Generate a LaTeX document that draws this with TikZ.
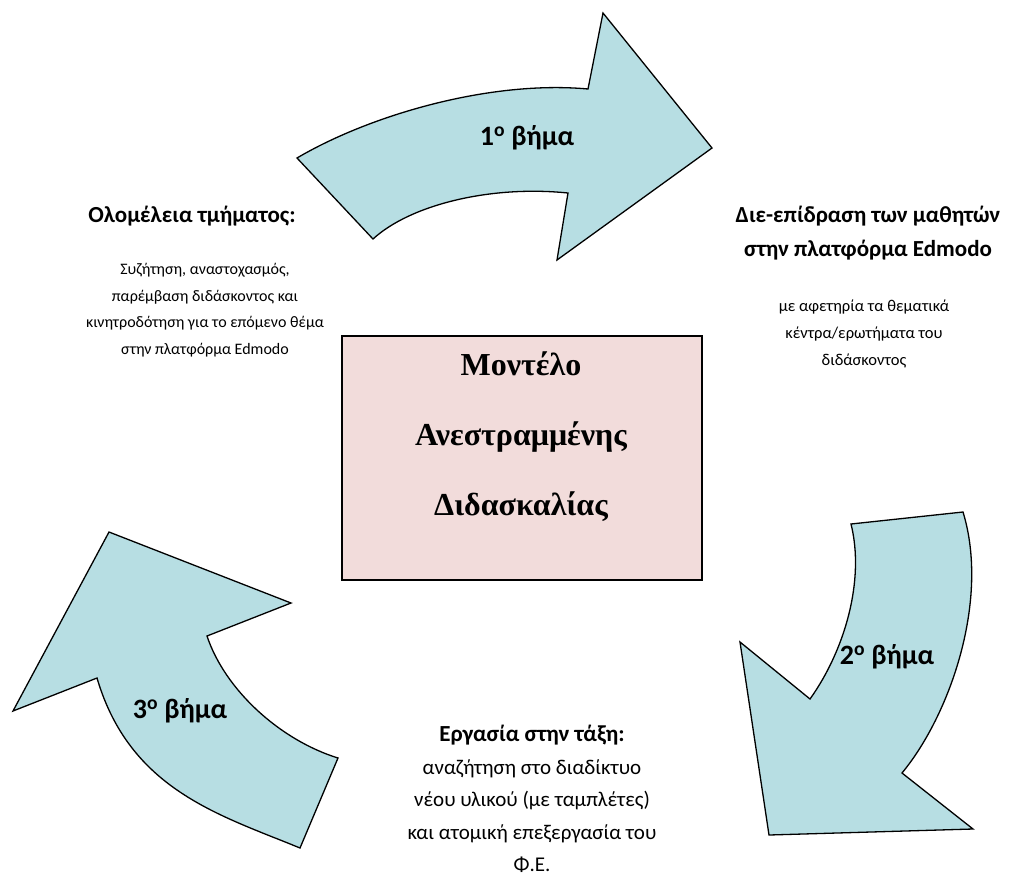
\documentclass[tikz,border=0pt]{standalone}
\usepackage{fontspec}
\setmainfont{Carlito}
\newfontfamily\serifgr{Liberation Serif}
\usetikzlibrary{positioning}

\definecolor{arrowblue}{RGB}{183,222,227}
\definecolor{boxpink}{RGB}{242,220,219}

\begin{document}
\begin{tikzpicture}[
                x = 1pt, y = -1pt, % pixel units, y down
                line join = miter,
                semithick % line style
            ]

            \tikzstyle{bigarrow}=[
            draw = black,
            fill = arrowblue,
            line width = 1.3pt
            ]
            \tikzstyle{steplabel}=[
            font = \fontsize{28}{32}\selectfont\bfseries,
            inner sep = 0pt
            ]
            \tikzstyle{headtext}=[
            font = \fontsize{23}{34}\selectfont\bfseries,
            align = center,
            inner sep = 0pt
            ]
            \tikzstyle{bodytext}=[
            align = center,
            inner sep = 0pt
            ]

            \useasboundingbox (0,0) rectangle (1010,879);

            % central box
            \node (model) [draw = black, fill = boxpink, line width = 1.6pt,
                minimum width = 360pt, minimum height = 244pt] at (522,458) {};
            \node (modeltext) [bodytext, font = \serifgr\fontsize{32}{70}\selectfont\bfseries]
                at (521,437) {Μοντέλο\\Ανεστραμμένης\\Διδασκαλίας};

            % 1st step arrow (top)
            \path[bigarrow] (297,158) .. controls (370,115) and (490,80) .. (588,89)
                -- (603,13) -- (712,148) -- (557,260) -- (568,193)
                .. controls (490,185) and (410,205) .. (373,239) -- cycle;

            % 2nd step arrow (right)
            \path[bigarrow] (963,512) -- (851,524)
                .. controls (865,580) and (845,650) .. (810,699)
                -- (740,642) -- (769,835) -- (973,829) -- (902,773)
                .. controls (950,715) and (990,600) .. (963,512) -- cycle;

            % 3rd step arrow (left)
            \path[bigarrow] (109,532) -- (291,603) -- (207,636)
                .. controls (225,690) and (280,740) .. (338,758)
                -- (300,848)
                .. controls (220,815) and (130,790) .. (97,678)
                -- (13,711) -- cycle;

            \node (step1) [steplabel] at (527,138) {1\textsuperscript{o} βήμα};
            \node (step2) [steplabel] at (887,657) {2\textsuperscript{o} βήμα};
            \node (step3) [steplabel] at (180,711) {3\textsuperscript{o} βήμα};

            % texts round the cycle
            \node (plenary) [headtext] at (192,216) {Ολομέλεια τμήματος:};
            \node (plenarybody) [bodytext, font = \fontsize{16}{26.5}\selectfont]
                at (205,310) {Συζήτηση, αναστοχασμός,\\παρέμβαση διδάσκοντος και\\
                κινητροδότηση για το επόμενο θέμα\\στην πλατφόρμα Edmodo};

            \node (edmodo) [headtext] at (868,233)
                {Διε-επίδραση των μαθητών\\στην πλατφόρμα Edmodo};
            \node (edmodobody) [bodytext, font = \fontsize{16.5}{27}\selectfont]
                at (864,334) {με αφετηρία τα θεματικά\\κέντρα/ερωτήματα του\\διδάσκοντος};

            \node (classwork) [bodytext, font = \fontsize{21}{32.5}\selectfont]
                at (532,799) {\textbf{\fontsize{23}{32.5}\selectfont Εργασία στην τάξη:}\\
                αναζήτηση στο διαδίκτυο\\
                νέου υλικού (με ταμπλέτες)\\και ατομική επεξεργασία του\\Φ.Ε.};
        \end{tikzpicture}
\end{document}
